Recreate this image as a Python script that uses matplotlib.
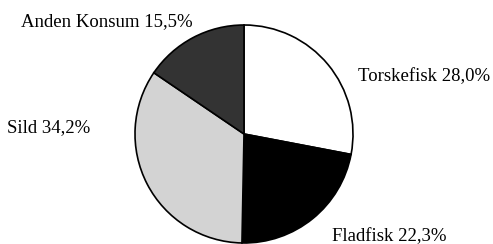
import matplotlib
matplotlib.use("Agg")
import matplotlib.pyplot as plt

labels = ["Torskefisk 28,0%", "Fladfisk 22,3%", "Sild 34,2%", "Anden Konsum 15,5%"]
shares = [28.0, 22.3, 34.2, 15.5]
colors = ["#ffffff", "#000000", "#d3d3d3", "#333333"]

plt.rcParams['font.family'] = ['Liberation Serif', 'DejaVu Serif']

fig = plt.figure(figsize=(4.93, 2.44), dpi=100)
ax = fig.add_axes([0, 0, 1, 1])

ax.pie(shares, colors=colors, startangle=90, counterclock=False,
       wedgeprops=dict(edgecolor="black", linewidth=1.2))

# pixel layout: centre at (244, 134) from top-left, radius 109 px
ax.set_aspect('auto')
ax.set_xlim(-244 / 109, (493 - 244) / 109)
ax.set_ylim(-110 / 109, 134 / 109)
ax.axis('off')

fs = 13.5
ax.text(1.046, 0.523, labels[0], ha='left', va='center', fontsize=fs)
ax.text(0.807, -0.94, labels[1], ha='left', va='center', fontsize=fs)
ax.text(-1.413, 0.055, labels[2], ha='right', va='center', fontsize=fs)
ax.text(-0.468, 1.028, labels[3], ha='right', va='center', fontsize=fs)

fig.savefig("out.png", dpi=100)
